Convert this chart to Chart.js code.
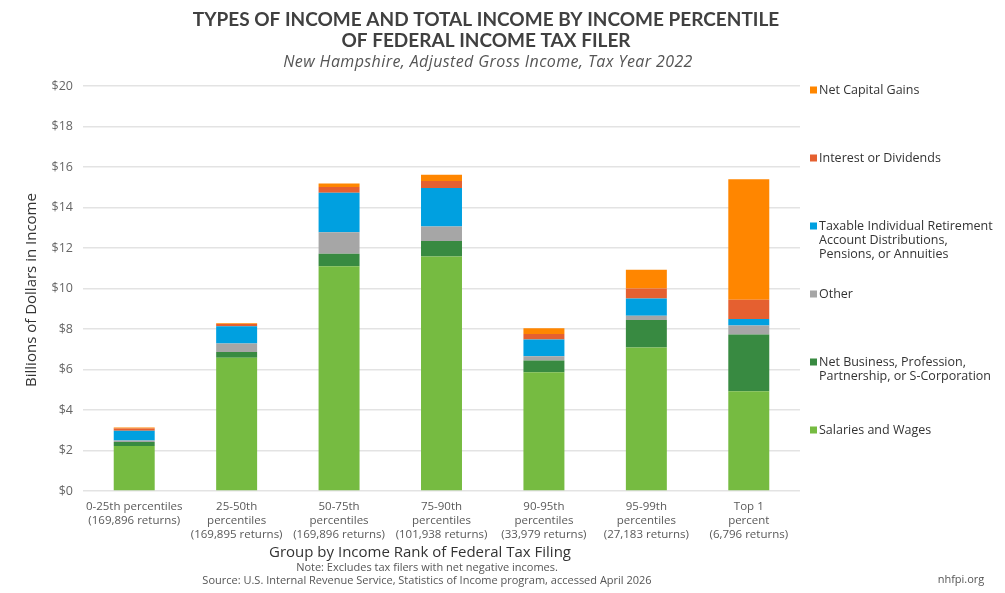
<!DOCTYPE html>
<html>
<head>
<meta charset="utf-8">
<script src="https://cdn.jsdelivr.net/npm/chart.js@4"></script>
<style>
  html, body { margin: 0; padding: 0; background: #fff; }
  #wrap { width: 1005px; height: 593px; }
</style>
</head>
<body>
<div id="wrap"><canvas id="myChart" width="1005" height="593"></canvas></div>
<script>
// categories (x axis labels, one array per label line)
const groups = [
  ['0-25th percentiles', '(169,896 returns)'],
  ['25-50th', 'percentiles', '(169,895 returns)'],
  ['50-75th', 'percentiles', '(169,896 returns)'],
  ['75-90th', 'percentiles', '(101,938 returns)'],
  ['90-95th', 'percentiles', '(33,979 returns)'],
  ['95-99th', 'percentiles', '(27,183 returns)'],
  ['Top 1', 'percent', '(6,796 returns)']
]

// billions of dollars
const salaries   = [2.22, 6.58, 11.10, 11.58, 5.86, 7.09, 4.93]
const business   = [0.20, 0.29, 0.61, 0.77, 0.59, 1.35, 2.80]
const other      = [0.08, 0.42, 1.07, 0.71, 0.20, 0.21, 0.44]
const retirement = [0.48, 0.85, 1.95, 1.90, 0.83, 0.86, 0.32]
const interest   = [0.11, 0.11, 0.28, 0.35, 0.27, 0.49, 0.95]
const capGains   = [0.05, 0.04, 0.17, 0.31, 0.29, 0.92, 5.95]

const yTicks = [0, 2, 4, 6, 8, 10, 12, 14, 16, 18, 20]

const FONT = '"Open Sans", sans-serif'

// legend drawn at the right, top to bottom
const legendPlugin = {
  id: 'sideLegend',
  afterDraw(chart) {
    const c = chart.ctx
    const sets = chart.data.datasets.slice().reverse()
    const rowY = [90, 158, 226, 294, 362, 430]
    c.save()
    c.textBaseline = 'middle'
    c.font = '12.5px ' + FONT
    sets.forEach((ds, i) => {
      const y = rowY[i]
      c.fillStyle = ds.backgroundColor
      c.fillRect(810, y - 3.5, 7, 7)
      c.fillStyle = '#333'
      ds.legendLines.forEach((ln, j) => c.fillText(ln, 819, y + j * 14))
    })
    c.restore()
  }
}

// titles, axis titles and notes
const textPlugin = {
  id: 'texts',
  afterDraw(chart) {
    const c = chart.ctx
    c.save()
    c.textAlign = 'center'
    c.textBaseline = 'middle'
    c.fillStyle = '#404040'
    c.font = 'bold 19px Lato, sans-serif'
    c.fillText('TYPES OF INCOME AND TOTAL INCOME BY INCOME PERCENTILE', 486, 20)
    c.fillText('OF FEDERAL INCOME TAX FILER', 486, 41)
    c.fillStyle = '#555'
    c.font = 'italic 16px ' + FONT
    c.letterSpacing = '0.4px'
    c.fillText('New Hampshire, Adjusted Gross Income, Tax Year 2022', 488, 62)
    c.letterSpacing = '0px'

    c.fillStyle = '#333'
    c.font = '15px ' + FONT
    c.fillText('Group by Income Rank of Federal Tax Filing', 420, 553)
    c.fillStyle = '#555'
    c.font = '11px ' + FONT
    c.fillText('Note: Excludes tax filers with net negative incomes.', 427, 568)
    c.fillText('Source: U.S. Internal Revenue Service, Statistics of Income program, accessed April 2026', 427, 581)
    c.fillText('nhfpi.org', 961, 580)

    c.translate(32, 290)
    c.rotate(-Math.PI / 2)
    c.fillStyle = '#333'
    c.font = '15px ' + FONT
    c.fillText('Billions of Dollars in Income', 0, 0)
    c.restore()
  }
}

const ctx = document.getElementById('myChart')

const dataset = {
  labels: groups,
  datasets: [
    { label: 'Salaries and Wages', legendLines: ['Salaries and Wages'], data: salaries, backgroundColor: '#76bb41' },
    { label: 'Net Business, Profession, Partnership, or S-Corporation', legendLines: ['Net Business, Profession,', 'Partnership, or S-Corporation'], data: business, backgroundColor: '#388a41' },
    { label: 'Other', legendLines: ['Other'], data: other, backgroundColor: '#a6a6a6' },
    { label: 'Taxable Individual Retirement Account Distributions, Pensions, or Annuities', legendLines: ['Taxable Individual Retirement', 'Account Distributions,', 'Pensions, or Annuities'], data: retirement, backgroundColor: '#00a0e0' },
    { label: 'Interest or Dividends', legendLines: ['Interest or Dividends'], data: interest, backgroundColor: '#e56030' },
    { label: 'Net Capital Gains', legendLines: ['Net Capital Gains'], data: capGains, backgroundColor: '#ff8600' }
  ]
}

const config = {
  type: 'bar',
  data: dataset,
  options: {
    responsive: false,
    animation: false,
    datasets: { bar: { barPercentage: 0.4, categoryPercentage: 1 } },
    layout: { padding: { left: 0, top: 86, right: 205, bottom: 0 } },
    plugins: { legend: { display: false }, tooltip: { enabled: false } },
    scales: {
      x: {
        stacked: true,
        grid: { display: false },
        border: { display: false },
        afterFit: (s) => { s.height = 102 },
        ticks: { color: '#595959', font: { family: FONT, size: 11.5 }, padding: 1, maxRotation: 0, autoSkip: false }
      },
      y: {
        stacked: true,
        min: yTicks[0],
        max: yTicks[yTicks.length - 1],
        afterFit: (s) => { s.width = 83 },
        afterBuildTicks: (s) => { s.ticks = yTicks.map(v => ({ value: v })) },
        grid: { color: '#e3e3e3', lineWidth: 1.5, drawTicks: false },
        border: { display: false },
        ticks: { color: '#666', font: { family: FONT, size: 12.5 }, padding: 10, callback: (v) => '$' + v }
      }
    }
  },
  plugins: [legendPlugin, textPlugin]
}

const chart = new Chart(ctx, config)
</script>
</body>
</html>
